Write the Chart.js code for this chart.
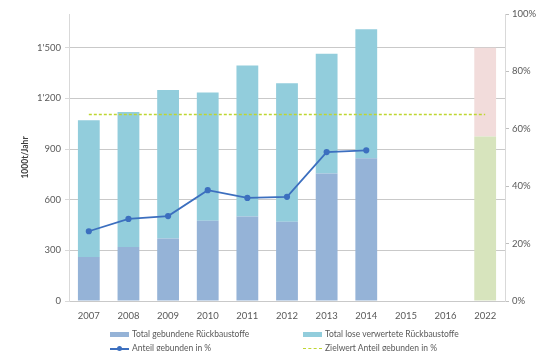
<!DOCTYPE html>
<html>
<head>
<meta charset="utf-8">
<script src="https://cdn.jsdelivr.net/npm/chart.js@4/dist/chart.umd.min.js"></script>
<style>
  html, body { margin: 0; padding: 0; background: #fff; }
  #wrap { position: relative; width: 541px; height: 351px; }
  #c { position: absolute; left: 0; top: 0; }
  .lg { position: absolute; font-family: Lato, "Open Sans", sans-serif; font-size: 8.5px; color: #595959; white-space: nowrap; line-height: 10px; }
  .sw { display: inline-block; vertical-align: middle; margin-right: 3px; position: relative; }
</style>
</head>
<body>
<div id="wrap">
  <canvas id="c" width="541" height="351"></canvas>
  <div id="legend"></div>
</div>
<script>
// ---- data ----
const years = ["2007","2008","2009","2010","2011","2012","2013","2014","2015","2016","2022"];
const gebunden = [260, 320, 370, 475, 500, 470, 755, 845, null, null, null];        // 1000t/Jahr
const lose = [810, 800, 880, 760, 895, 820, 710, 765, null, null, null];             // 1000t/Jahr
const ziel2022Gebunden = [null, null, null, null, null, null, null, null, null, null, 975];
const ziel2022Lose = [null, null, null, null, null, null, null, null, null, null, 525];
const anteilGebunden = [24.3, 28.6, 29.6, 38.6, 35.9, 36.3, 51.9, 52.5, null, null, null]; // %
const zielwertAnteil = [65, 65, 65, 65, 65, 65, 65, 65, 65, 65, 65];                  // %
const leftTicks = [0, 300, 600, 900, 1200, 1500];
const rightTicks = [0, 20, 40, 60, 80, 100];

const labels = {
  gebunden: "Total gebundene Rückbaustoffe",
  lose: "Total lose verwertete Rückbaustoffe",
  anteil: "Anteil gebunden in %",
  ziel: "Zielwert Anteil gebunden in %"
};
const axisTitle = "1000t/Jahr";

const C = {
  dark: "#95B3D7", light: "#92CDDC", green: "#D7E4BD", pink: "#F2DCDB",
  line: "#3C6FBF", target: "#BFD630", text: "#595959", grid: "#C9C9C9"
};
const FONT = "Lato, 'Open Sans', sans-serif";

const chart = new Chart(document.getElementById("c"), {
  data: {
    labels: years,
    datasets: [
      { type: "line", label: labels.ziel, data: zielwertAnteil, yAxisID: "yR",
        borderColor: C.target, borderWidth: 1.5, borderDash: [3, 2], pointRadius: 0, order: 0 },
      { type: "line", label: labels.anteil, data: anteilGebunden, yAxisID: "yR",
        borderColor: C.line, backgroundColor: C.line, borderWidth: 1.8,
        pointRadius: 2.2, pointHoverRadius: 2.2, order: 1 },
      { type: "bar", label: labels.gebunden, data: gebunden, backgroundColor: C.dark, stack: "s", yAxisID: "y", order: 2 },
      { type: "bar", label: labels.lose, data: lose, backgroundColor: C.light, stack: "s", yAxisID: "y", order: 2 },
      { type: "bar", label: "Ziel 2022 gebunden", data: ziel2022Gebunden, backgroundColor: C.green, stack: "s", yAxisID: "y", order: 2 },
      { type: "bar", label: "Ziel 2022 lose", data: ziel2022Lose, backgroundColor: C.pink, stack: "s", yAxisID: "y", order: 2 }
    ]
  },
  options: {
    responsive: false,
    animation: false,
    layout: { padding: { top: 14, left: 0, right: 0, bottom: 0 } },
    datasets: { bar: { categoryPercentage: 1.0, barPercentage: 0.55 } },
    plugins: { legend: { display: false }, tooltip: { enabled: false } },
    scales: {
      x: {
        stacked: true,
        grid: { display: false, drawTicks: false },
        border: { display: false },
        ticks: { color: C.text, font: { family: FONT, size: 9.5 }, padding: 9 },
        afterFit: s => { s.height = 50; }
      },
      y: {
        type: "linear", position: "left", stacked: true,
        min: 0, max: 1700,
        afterBuildTicks: s => { s.ticks = leftTicks.map(v => ({ value: v })); },
        ticks: { color: C.text, font: { family: FONT, size: 9.5 }, padding: 4,
                 callback: v => v >= 1000 ? Math.floor(v / 1000) + "'" + String(v % 1000).padStart(3, "0") : String(v) },
        grid: { color: C.grid, lineWidth: 1, tickLength: 4, tickColor: "#D9D9D9" },
        border: { display: true, color: "#D9D9D9" },
        title: { display: true, text: axisTitle, color: "#404040", font: { family: FONT, size: 8.5, weight: "bold" }, padding: { top: 20, bottom: 0 } },
        afterFit: s => { s.width = 69; }
      },
      yR: {
        type: "linear", position: "right",
        min: 0, max: 100,
        afterBuildTicks: s => { s.ticks = rightTicks.map(v => ({ value: v })); },
        ticks: { color: C.text, font: { family: FONT, size: 9.5 }, padding: 3, callback: v => v + "%" },
        grid: { drawOnChartArea: false, tickLength: 4, tickColor: "#BFBFBF" },
        border: { display: true, color: "#D9D9D9" },
        afterFit: s => { s.width = 36; }
      }
    }
  }
});

// ---- HTML legend built from the dataset labels ----
const lg = document.getElementById("legend");
function item(x, y, swatchHtml, text) {
  const d = document.createElement("div");
  d.className = "lg";
  d.style.left = x + "px";
  d.style.top = (y - 5) + "px";
  d.innerHTML = swatchHtml;
  const s = document.createElement("span");
  s.textContent = text;
  d.appendChild(s);
  lg.appendChild(d);
}
const box = col => `<span class="sw" style="width:19px;height:5px;background:${col};"></span>`;
const lineSw = col => `<span class="sw" style="width:19px;height:2px;background:${col};"><span style="position:absolute;left:7px;top:-1.5px;width:5px;height:5px;border-radius:50%;background:${col}"></span></span>`;
const dashSw = col => `<span class="sw" style="width:19px;height:0;border-top:1.5px dashed ${col};"></span>`;
item(110, 334, box(C.dark), labels.gebunden);
item(303, 334, box(C.light), labels.lose);
item(110, 348, lineSw(C.line), labels.anteil);
item(303, 348, dashSw(C.target), labels.ziel);
</script>
</body>
</html>
